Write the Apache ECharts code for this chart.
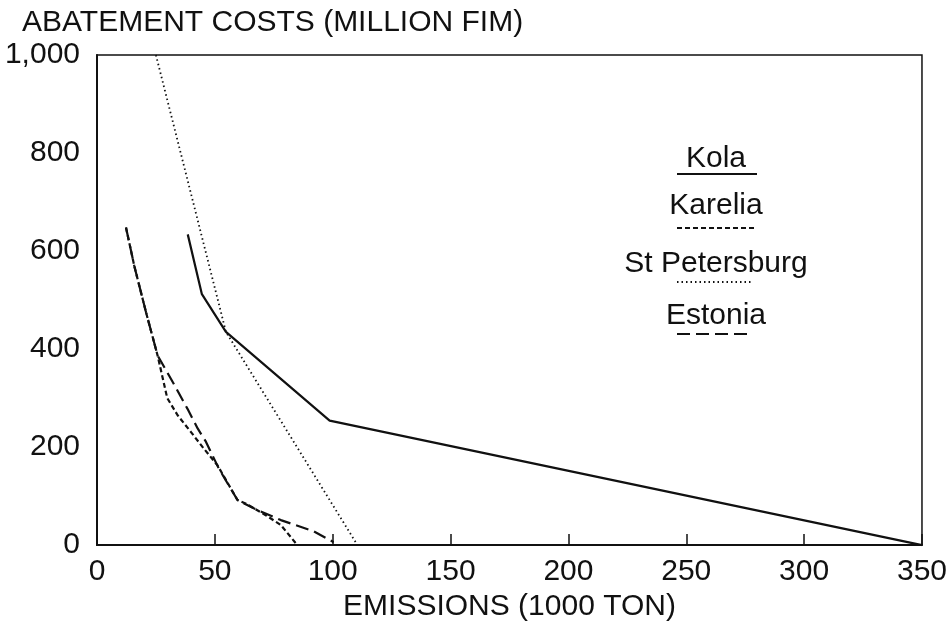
<!DOCTYPE html>
<html>
<head>
<meta charset="utf-8">
<script src="https://cdn.jsdelivr.net/npm/echarts@6/dist/echarts.min.js"></script>
<style>
  html, body { margin: 0; padding: 0; background: #fff; }
  #chart { width: 950px; height: 627px; }
</style>
</head>
<body>
<div id="chart"></div>
<script>
// ---- data ----
const xTicks = [0, 50, 100, 150, 200, 250, 300, 350];
const yTicks = [0, 200, 400, 600, 800, 1000];
const seriesNames = ['Kola', 'Karelia', 'St Petersburg', 'Estonia'];
const kola = [[38.5, 634], [44.5, 512], [54.7, 435], [98.7, 254], [350, 0]];
const karelia = [[12.3, 648], [15.8, 570], [20.8, 475], [25.7, 387], [29.8, 300], [34.2, 265], [39.8, 231], [45.3, 197], [51.1, 163], [59.6, 92], [63, 85], [71.6, 61], [78, 41], [85, 0]];
const stPetersburg = [[25, 1000], [54.7, 435], [110.5, 0]];
const estonia = [[12.3, 648], [15.8, 570], [20.8, 475], [25.7, 387], [31.4, 339], [38.4, 278], [42.7, 238], [46.2, 211], [51.7, 156], [59.6, 92], [66.5, 75], [78, 51], [92, 28], [100.4, 6]];
const titleText = 'ABATEMENT COSTS (MILLION FIM)';
const xName = 'EMISSIONS (1000 TON)';

const FONT = '"Liberation Sans", Arial, Helvetica, sans-serif';
const INK = '#111';

const styles = {
  'Kola': { type: 'solid', width: 2.2 },
  'Karelia': { type: [5, 3], width: 2.2 },
  'St Petersburg': { type: [1.5, 3], width: 1.8 },
  'Estonia': { type: [13, 6], width: 2.2 }
};
const dataMap = { 'Kola': kola, 'Karelia': karelia, 'St Petersburg': stPetersburg, 'Estonia': estonia };

// legend layout (text middle and underline)
const legendCx = 716;
const legendTextY = [159, 206, 264, 316];
const legendLineY = [174, 228, 282, 334];
const legendLineX = [[677, 757], [677, 755], [677, 753], [677, 752]];

const graphics = [];
seriesNames.forEach((n, i) => {
  graphics.push({
    type: 'text',
    style: { text: n, x: legendCx, y: legendTextY[i], font: '30px ' + FONT, fill: INK, align: 'center', verticalAlign: 'middle' }
  });
  const st = styles[n];
  graphics.push({
    type: 'line',
    shape: { x1: legendLineX[i][0], y1: legendLineY[i], x2: legendLineX[i][1], y2: legendLineY[i] },
    style: { stroke: INK, lineWidth: st.width, lineDash: st.type === 'solid' ? null : st.type }
  });
});

const chart = echarts.init(document.getElementById('chart'), null, { renderer: 'canvas' });
chart.setOption({
  backgroundColor: '#fff',
  animation: false,
  title: {
    text: titleText, left: 22, top: 8, padding: 0,
    textStyle: { fontFamily: FONT, fontSize: 30, fontWeight: 'normal', color: INK }
  },
  grid: { left: 97, right: 27, top: 55, bottom: 80, show: true, borderColor: INK, borderWidth: 1.5, backgroundColor: 'transparent' },
  xAxis: {
    type: 'value', min: xTicks[0], max: xTicks[xTicks.length - 1], interval: 50,
    name: xName, nameLocation: 'middle', nameGap: 40,
    nameTextStyle: { fontFamily: FONT, fontSize: 30, color: INK },
    axisLine: { show: true, lineStyle: { color: INK, width: 2 } },
    axisTick: { show: true, inside: true, length: 11, lineStyle: { color: INK, width: 1.5 } },
    axisLabel: { fontFamily: FONT, fontSize: 30, color: INK, margin: 12 },
    splitLine: { show: false }
  },
  yAxis: {
    type: 'value', min: yTicks[0], max: yTicks[yTicks.length - 1], interval: 200,
    axisLine: { show: true, lineStyle: { color: INK, width: 2 } },
    axisTick: { show: false },
    axisLabel: { fontFamily: FONT, fontSize: 30, color: INK, margin: 17,
      formatter: v => v.toLocaleString('en-US') },
    splitLine: { show: false }
  },
  series: seriesNames.map(n => ({
    name: n, type: 'line', data: dataMap[n], showSymbol: false, symbol: 'none',
    lineStyle: { color: INK, width: styles[n].width, type: styles[n].type },
    z: 3
  })),
  graphic: graphics
});
</script>
</body>
</html>
